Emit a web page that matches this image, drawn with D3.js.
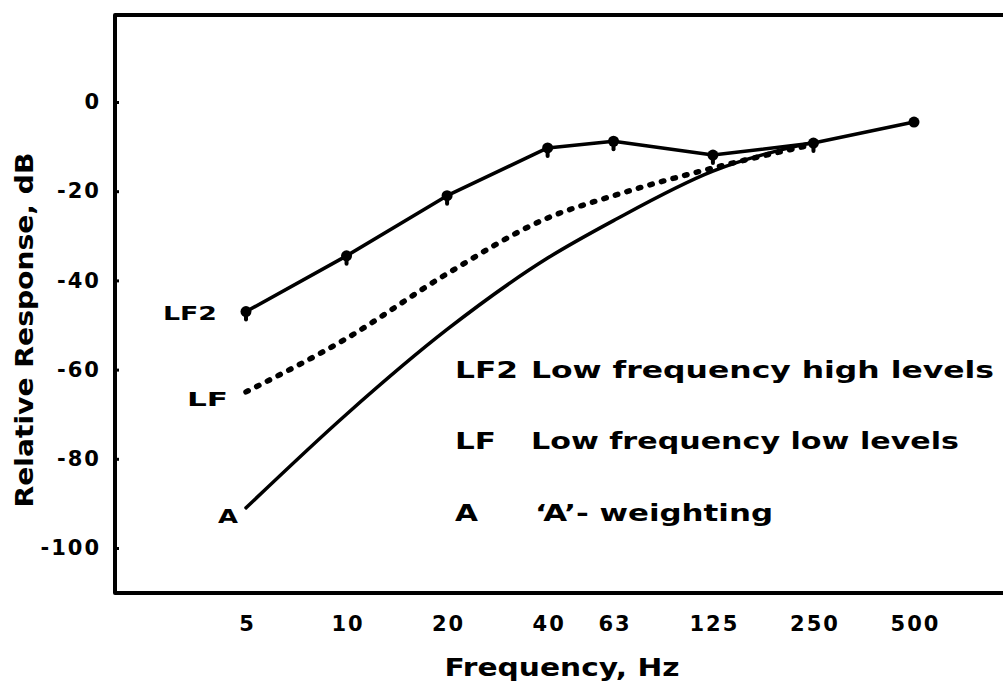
<!DOCTYPE html>
<html>
<head>
<meta charset="utf-8">
<script src="https://cdn.jsdelivr.net/npm/d3@7"></script>
<style>
  html, body { margin: 0; padding: 0; background: #fff; }
  svg { display: block; }
  text { font-family: "DejaVu Sans", sans-serif; font-weight: bold; fill: #000; }
</style>
</head>
<body>
<svg id="chart" width="1003" height="686"></svg>
<script>
// ---- data ----
const freqTicks = [5, 10, 20, 40, 63, 125, 250, 500];
const yTicks = [0, -20, -40, -60, -80, -100];

const lf2Freq = [5, 10, 20, 40, 63, 125, 250, 500];
const lf2Vals = [-47, -34.5, -21, -10.3, -8.8, -11.9, -9.2, -4.5];

const lfFreq = [5, 10, 20, 40, 63, 125, 250];
const lfVals = [-65, -53, -38.5, -26, -21, -14.8, -9.5];

const aFreq = [5, 10, 20, 40, 63, 125, 250];
const aVals = [-91, -70, -51, -35, -26.6, -15.5, -9];

const legendKeys = ["LF2", "LF", "A"];
const legendTexts = ["Low frequency high levels", "Low frequency low levels", "\u2018A\u2019- weighting"];
const curveLabels = ["LF2", "LF", "A"];

const xTitle = "Frequency, Hz";
const yTitle = "Relative Response, dB";

// ---- layout ----
const svg = d3.select("#chart");
const x = d3.scaleLog().domain([5, 500]).range([246, 914]);
const y = d3.scaleLinear().domain([0, -100]).range([102, 548]);
const frame = { left: 115, top: 15, bottom: 593, right: 1010 };

// frame (left, top, bottom; right edge is cut off)
svg.append("path")
  .attr("d", `M${frame.right},${frame.top} L${frame.left},${frame.top} L${frame.left},${frame.bottom} L${frame.right},${frame.bottom}`)
  .attr("fill", "none").attr("stroke", "#000").attr("stroke-width", 4).attr("stroke-linejoin", "round");

// y axis ticks + labels
const yAxis = d3.axisLeft(y).tickValues(yTicks).tickSize(-4).tickPadding(14).tickFormat(d => String(d));
const gy = svg.append("g").attr("transform", `translate(${frame.left},0)`).call(yAxis);
gy.select(".domain").remove();
gy.selectAll(".tick line").attr("stroke", "#000").attr("stroke-width", 3);
gy.selectAll(".tick text").attr("font-size", 21).attr("font-family", "DejaVu Sans")
  .attr("font-weight", "bold").attr("letter-spacing", 2);

// x axis labels
const xAxis = d3.axisBottom(x).tickValues(freqTicks).tickSize(0).tickPadding(23).tickFormat(d => String(d));
const gx = svg.append("g").attr("transform", `translate(0,${frame.bottom})`).call(xAxis);
gx.select(".domain").remove();
gx.selectAll(".tick text").attr("font-size", 21).attr("font-family", "DejaVu Sans")
  .attr("font-weight", "bold").attr("letter-spacing", 2).attr("dx", 1);

// titles
svg.append("text").attr("x", 562).attr("y", 676).attr("text-anchor", "middle")
  .attr("font-size", 25).attr("textLength", 235).attr("lengthAdjust", "spacingAndGlyphs").text(xTitle);
svg.append("text").attr("transform", "translate(33,330) rotate(-90)").attr("text-anchor", "middle")
  .attr("font-size", 24).attr("textLength", 355).attr("lengthAdjust", "spacingAndGlyphs").text(yTitle);

// curves
const mk = (fs, vs) => fs.map((f, i) => [x(f), y(vs[i])]);

// A-weighting (smooth solid)
svg.append("path")
  .attr("d", d3.line().curve(d3.curveMonotoneX)(mk(aFreq, aVals)))
  .attr("fill", "none").attr("stroke", "#000").attr("stroke-width", 3.5).attr("stroke-linecap", "round");

// LF (dotted)
svg.append("path")
  .attr("d", d3.line().curve(d3.curveMonotoneX)(mk(lfFreq, lfVals)))
  .attr("fill", "none").attr("stroke", "#000").attr("stroke-width", 5.5)
  .attr("stroke-dasharray", "2.5,9.5").attr("stroke-linecap", "round");

// LF2 (solid polyline with markers)
const lf2Pts = mk(lf2Freq, lf2Vals);
svg.append("path")
  .attr("d", d3.line()(lf2Pts))
  .attr("fill", "none").attr("stroke", "#000").attr("stroke-width", 3.5).attr("stroke-linejoin", "round");
svg.selectAll("circle.lf2").data(lf2Pts).join("circle")
  .attr("class", "lf2").attr("cx", d => d[0]).attr("cy", d => d[1]).attr("r", 5.5).attr("fill", "#000");
svg.selectAll("line.lf2stub").data(lf2Pts.slice(0, -1)).join("line")
  .attr("class", "lf2stub")
  .attr("x1", d => d[0]).attr("x2", d => d[0])
  .attr("y1", d => d[1]).attr("y2", d => d[1] + 8)
  .attr("stroke", "#000").attr("stroke-width", 4).attr("stroke-linecap", "round");

// curve-start labels
const clPos = [[163, 320, 54], [187, 406, 41], [218, 523, 20]];
curveLabels.forEach((t, i) => {
  svg.append("text").attr("x", clPos[i][0]).attr("y", clPos[i][1]).attr("font-size", 20)
    .attr("textLength", clPos[i][2]).attr("lengthAdjust", "spacingAndGlyphs").text(t);
});

// legend
const legY = [378, 449, 521];
const keyW = [63, 41, 23];
const legG = svg.append("g");
legendKeys.forEach((k, i) => {
  legG.append("text").attr("x", 455).attr("y", legY[i]).attr("font-size", 23)
    .attr("textLength", keyW[i]).attr("lengthAdjust", "spacingAndGlyphs").text(k);
});
const descX = [531, 531, 535];
const descW = [463, 428, 238];
legendTexts.forEach((t, i) => {
  legG.append("text").attr("x", descX[i]).attr("y", legY[i]).attr("font-size", 23)
    .attr("textLength", descW[i]).attr("lengthAdjust", "spacingAndGlyphs").text(t);
});
</script>
</body>
</html>
